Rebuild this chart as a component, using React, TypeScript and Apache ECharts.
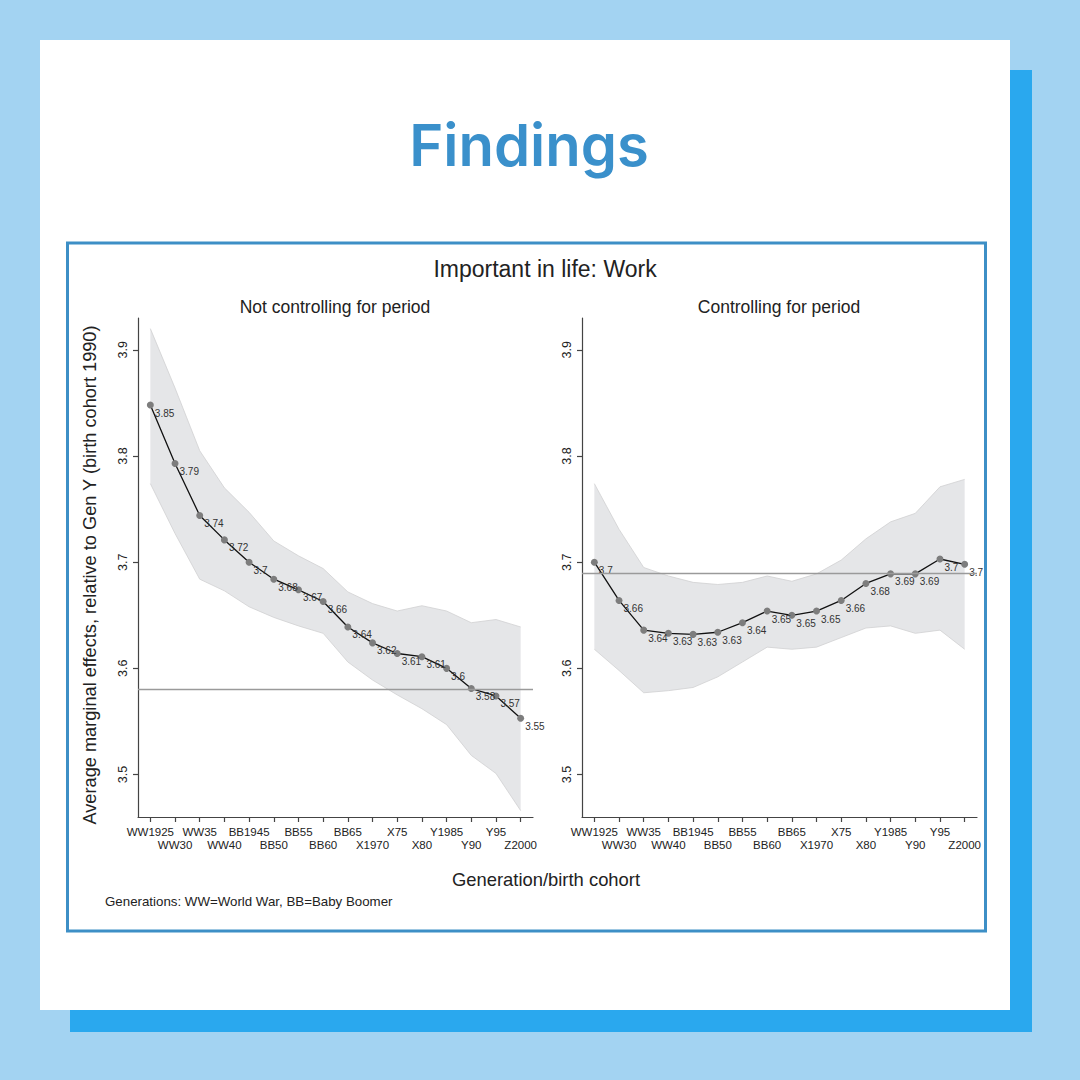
import React, { useEffect, useRef } from "react";
import * as echarts from "echarts";

const cohorts = ["WW1925", "WW30", "WW35", "WW40", "BB1945", "BB50", "BB55", "BB60", "BB65", "X1970", "X75", "X80", "Y1985", "Y90", "Y95", "Z2000"];

const leftEstimate = [3.848, 3.793, 3.744, 3.721, 3.7, 3.684, 3.674, 3.663, 3.639, 3.624, 3.614, 3.611, 3.6, 3.581, 3.574, 3.553];
const leftUpper = [3.92, 3.864, 3.805, 3.77, 3.747, 3.72, 3.706, 3.694, 3.672, 3.661, 3.654, 3.659, 3.654, 3.643, 3.646, 3.639];
const leftLower = [3.774, 3.727, 3.684, 3.673, 3.658, 3.648, 3.64, 3.633, 3.606, 3.589, 3.575, 3.562, 3.547, 3.518, 3.501, 3.466];

const rightEstimate = [3.7, 3.664, 3.636, 3.633, 3.632, 3.634, 3.643, 3.654, 3.65, 3.654, 3.664, 3.68, 3.689, 3.689, 3.703, 3.698];
const rightUpper = [3.774, 3.731, 3.695, 3.687, 3.681, 3.679, 3.681, 3.687, 3.682, 3.689, 3.702, 3.722, 3.738, 3.746, 3.771, 3.778];
const rightLower = [3.618, 3.598, 3.577, 3.579, 3.582, 3.592, 3.606, 3.62, 3.618, 3.62, 3.629, 3.638, 3.64, 3.633, 3.636, 3.618];

const yTicks = [3.5, 3.6, 3.7, 3.8, 3.9];
const referenceIndex = 13; // Y90 = birth cohort 1990

const FONT = "Liberation Sans, Arial, sans-serif";

function fmt(v: number): string {
  return String(Math.round(v * 100) / 100);
}

function xAxisFor(gridIndex: number) {
  return {
    type: "category",
    gridIndex,
    data: cohorts,
    boundaryGap: true,
    axisLine: { show: true, lineStyle: { color: "#444", width: 1.2 } },
    axisTick: { show: true, alignWithLabel: true, interval: 0, length: 5, lineStyle: { color: "#444", width: 1.2 } },
    axisLabel: {
      interval: 0,
      fontSize: 11.5,
      fontFamily: FONT,
      color: "#222",
      margin: 8,
      lineHeight: 13.5,
      formatter: (v: string, i: number) => (i % 2 ? "\n" + v : v),
    },
    splitLine: { show: false },
  };
}

function yAxisFor(gridIndex: number) {
  return {
    type: "value",
    gridIndex,
    min: 3.46,
    max: 3.93,
    axisLine: { show: true, lineStyle: { color: "#444", width: 1.2 } },
    axisTick: { show: true, length: 5, customValues: yTicks, lineStyle: { color: "#444", width: 1.2 } },
    axisLabel: {
      customValues: yTicks,
      rotate: 90,
      fontSize: 12.5,
      fontFamily: FONT,
      color: "#222",
      margin: 9,
      formatter: (v: number) => fmt(v),
    },
    splitLine: { show: false },
  };
}

function panelSeries(idx: number, est: number[], upper: number[], lower: number[]) {
  const stack = "band" + idx;
  return [
    {
      type: "line",
      xAxisIndex: idx,
      yAxisIndex: idx,
      data: lower,
      stack,
      symbol: "none",
      lineStyle: { color: "#d0d0d2", width: 0.8 },
      silent: true,
      z: 1,
    },
    {
      type: "line",
      xAxisIndex: idx,
      yAxisIndex: idx,
      data: upper.map((u, i) => u - lower[i]),
      stack,
      symbol: "none",
      lineStyle: { color: "#d0d0d2", width: 0.8 },
      areaStyle: { color: "#e5e6e8", opacity: 1 },
      silent: true,
      z: 1,
    },
    {
      type: "line",
      xAxisIndex: idx,
      yAxisIndex: idx,
      data: est,
      symbol: "circle",
      symbolSize: 7,
      itemStyle: { color: "#7d7d7d" },
      lineStyle: { color: "#111", width: 1.3 },
      label: {
        show: true,
        position: "right",
        distance: 1,
        offset: [0, 8],
        fontSize: 10,
        fontFamily: FONT,
        color: "#333",
        formatter: (p: any) => fmt(p.value),
      },
      markLine: {
        silent: true,
        symbol: "none",
        label: { show: false },
        lineStyle: { color: "#9a9a9a", width: 1.3, type: "solid" },
        data: [{ yAxis: est[referenceIndex] }],
      },
      z: 3,
    },
  ];
}

export default function App() {
  const ref = useRef<HTMLDivElement>(null);

  useEffect(() => {
    if (!ref.current) return;
    const chart = echarts.init(ref.current, undefined, { renderer: "svg" });
    const option = {
      animation: false,
      grid: [
        { left: 138, top: 318, width: 395, height: 499 },
        { left: 582, top: 318, width: 395, height: 499 },
      ],
      xAxis: [xAxisFor(0), xAxisFor(1)],
      yAxis: [yAxisFor(0), yAxisFor(1)],
      series: [
        ...panelSeries(0, leftEstimate, leftUpper, leftLower),
        ...panelSeries(1, rightEstimate, rightUpper, rightLower),
      ],
      graphic: [
        { type: "rect", z: -20, shape: { x: 0, y: 0, width: 1080, height: 1080 }, style: { fill: "#a3d3f2" }, silent: true },
        { type: "rect", z: -19, shape: { x: 70, y: 70, width: 962, height: 962 }, style: { fill: "#2aa8ee" }, silent: true },
        { type: "rect", z: -18, shape: { x: 40, y: 40, width: 970, height: 970 }, style: { fill: "#ffffff" }, silent: true },
        { type: "rect", z: -17, shape: { x: 67.5, y: 243, width: 918, height: 688 }, style: { fill: "#ffffff", stroke: "#3d8fc6", lineWidth: 3 }, silent: true },
        {
          type: "text", z: 10, x: 529, y: 145,
          style: { text: "Findings", fill: "#3a90cb", font: "600 58px Inter, 'Open Sans', sans-serif", align: "center", verticalAlign: "middle" },
        },
        {
          type: "text", z: 10, x: 545, y: 269,
          style: { text: "Important in life: Work", fill: "#222", font: "23px " + FONT, align: "center", verticalAlign: "middle" },
        },
        {
          type: "text", z: 10, x: 335, y: 307,
          style: { text: "Not controlling for period", fill: "#222", font: "17.5px " + FONT, align: "center", verticalAlign: "middle" },
        },
        {
          type: "text", z: 10, x: 779, y: 307,
          style: { text: "Controlling for period", fill: "#222", font: "17.5px " + FONT, align: "center", verticalAlign: "middle" },
        },
        {
          type: "text", z: 10, x: 90, y: 575, rotation: Math.PI / 2,
          style: { text: "Average marginal effects, relative to Gen Y (birth cohort 1990)", fill: "#222", font: "18.2px " + FONT, align: "center", verticalAlign: "middle" },
        },
        {
          type: "text", z: 10, x: 546, y: 879,
          style: { text: "Generation/birth cohort", fill: "#222", font: "18.4px " + FONT, align: "center", verticalAlign: "middle" },
        },
        {
          type: "text", z: 10, x: 105, y: 901,
          style: { text: "Generations: WW=World War, BB=Baby Boomer", fill: "#222", font: "13.3px " + FONT, align: "left", verticalAlign: "middle" },
        },
      ],
    };
    chart.setOption(option as any);
    return () => chart.dispose();
  }, []);

  return <div ref={ref} style={{ position: "absolute", left: 0, top: 0, width: 1080, height: 1080 }} />;
}
